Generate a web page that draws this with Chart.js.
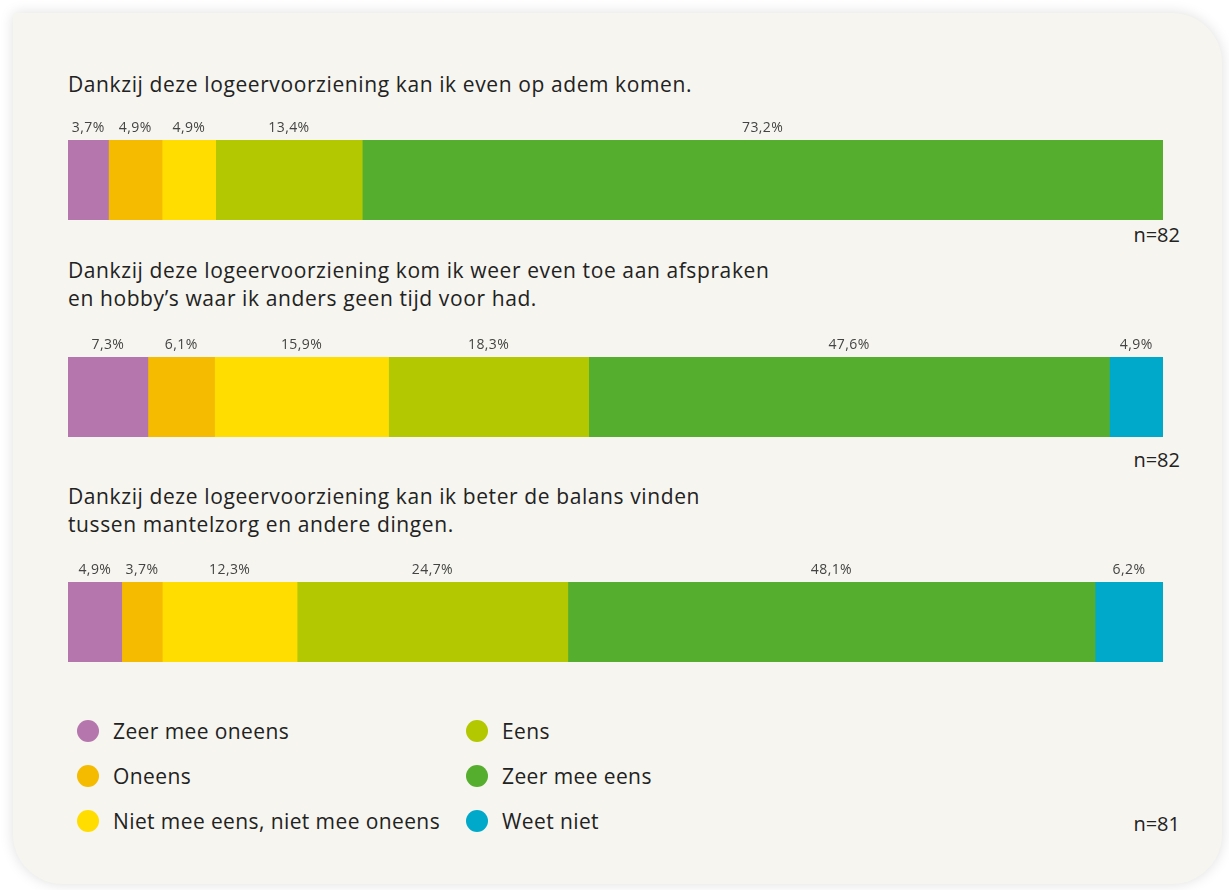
<!DOCTYPE html>
<html>
<head>
<meta charset="utf-8">
<script src="https://cdn.jsdelivr.net/npm/chart.js@4.4.0/dist/chart.umd.min.js"></script>
<style>
  body { margin: 0; background: #fff; font-family: 'Open Sans', sans-serif; }
  #card {
    position: absolute; left: 13px; top: 13px; width: 1209px; height: 871px;
    background: #f6f5ef; border-radius: 4px 50px 50px 50px;
    box-shadow: 0 0 14px rgba(0,0,0,0.13);
  }
  .title { position: absolute; left: 68px; font-size: 21px; letter-spacing: 0.6px; line-height: 28px; color: #222; }
  .n { position: absolute; right: 49px; font-size: 20px; color: #222; }
  .box { position: absolute; left: 60px; width: 1110px; height: 100px; }
  .leg { position: absolute; font-size: 21px; letter-spacing: 0.4px; color: #222; line-height: 24px; }
  .leg span.dot { position: absolute; left: -36px; top: 1px; width: 22px; height: 22px; border-radius: 50%; }
</style>
</head>
<body>
<div id="card"></div>
<div class="title" style="top:70px">Dankzij deze logeervoorziening kan ik even op adem komen.</div>
<div class="box" style="top:120px"><canvas id="c1"></canvas></div>
<div class="n" style="top:221px">n=82</div>

<div class="title" style="top:256px">Dankzij deze logeervoorziening kom ik weer even toe aan afspraken<br>en hobby’s waar ik anders geen tijd voor had.</div>
<div class="box" style="top:337px"><canvas id="c2"></canvas></div>
<div class="n" style="top:446px">n=82</div>

<div class="title" style="top:482px">Dankzij deze logeervoorziening kan ik beter de balans vinden<br>tussen mantelzorg en andere dingen.</div>
<div class="box" style="top:562px"><canvas id="c3"></canvas></div>
<div class="n" style="top:810px">n=81</div>

<div id="legend"></div>

<script>
const categories = ['Zeer mee oneens', 'Oneens', 'Niet mee eens, niet mee oneens', 'Eens', 'Zeer mee eens', 'Weet niet'];
const colors = ['#b576ad', '#f5bb00', '#ffdd00', '#b3c800', '#56ae2f', '#00a9c9'];

const bar1 = [3.7, 4.9, 4.9, 13.4, 73.2, 0];
const bar2 = [7.3, 6.1, 15.9, 18.3, 47.6, 4.9];
const bar3 = [4.9, 3.7, 12.3, 24.7, 48.1, 6.2];

const fmt = v => v.toFixed(1).replace('.', ',') + '%';

const labelPlugin = {
  id: 'segLabels',
  afterDatasetsDraw(chart) {
    const ctx = chart.ctx;
    ctx.save();
    ctx.font = '14px "Open Sans", sans-serif';
    ctx.letterSpacing = '0.4px';
    ctx.fillStyle = '#444';
    ctx.textAlign = 'center';
    ctx.textBaseline = 'middle';
    chart.data.datasets.forEach((ds, i) => {
      const v = ds.data[0];
      if (!v) return;
      const el = chart.getDatasetMeta(i).data[0];
      const x = (el.x + el.base) / 2;
      ctx.fillText(fmt(v), x, el.y - el.height / 2 - 12);
    });
    ctx.restore();
  }
};

function makeBar(id, values) {
  const total = values.reduce((a, b) => a + b, 0);
  new Chart(document.getElementById(id), {
    type: 'bar',
    data: {
      labels: [''],
      datasets: categories.map((c, i) => ({
        label: c,
        data: [values[i]],
        backgroundColor: colors[i],
        borderWidth: 0,
        barPercentage: 1,
        categoryPercentage: 1
      }))
    },
    options: {
      indexAxis: 'y',
      responsive: true,
      maintainAspectRatio: false,
      animation: false,
      layout: { padding: { top: 20, left: 8, right: 7, bottom: 0 } },
      scales: {
        x: { stacked: true, display: false, min: 0, max: total },
        y: { stacked: true, display: false }
      },
      plugins: { legend: { display: false }, tooltip: { enabled: false } }
    },
    plugins: [labelPlugin]
  });
}

makeBar('c1', bar1);
makeBar('c2', bar2);
makeBar('c3', bar3);

// legend in two columns
const legend = document.getElementById('legend');
categories.forEach((c, i) => {
  const col = Math.floor(i / 3), row = i % 3;
  const d = document.createElement('div');
  d.className = 'leg';
  d.style.left = (col ? 502 : 113) + 'px';
  d.style.top = (719 + row * 45) + 'px';
  d.innerHTML = '<span class="dot" style="background:' + colors[i] + '"></span>' + c;
  legend.appendChild(d);
});
</script>
</body>
</html>
